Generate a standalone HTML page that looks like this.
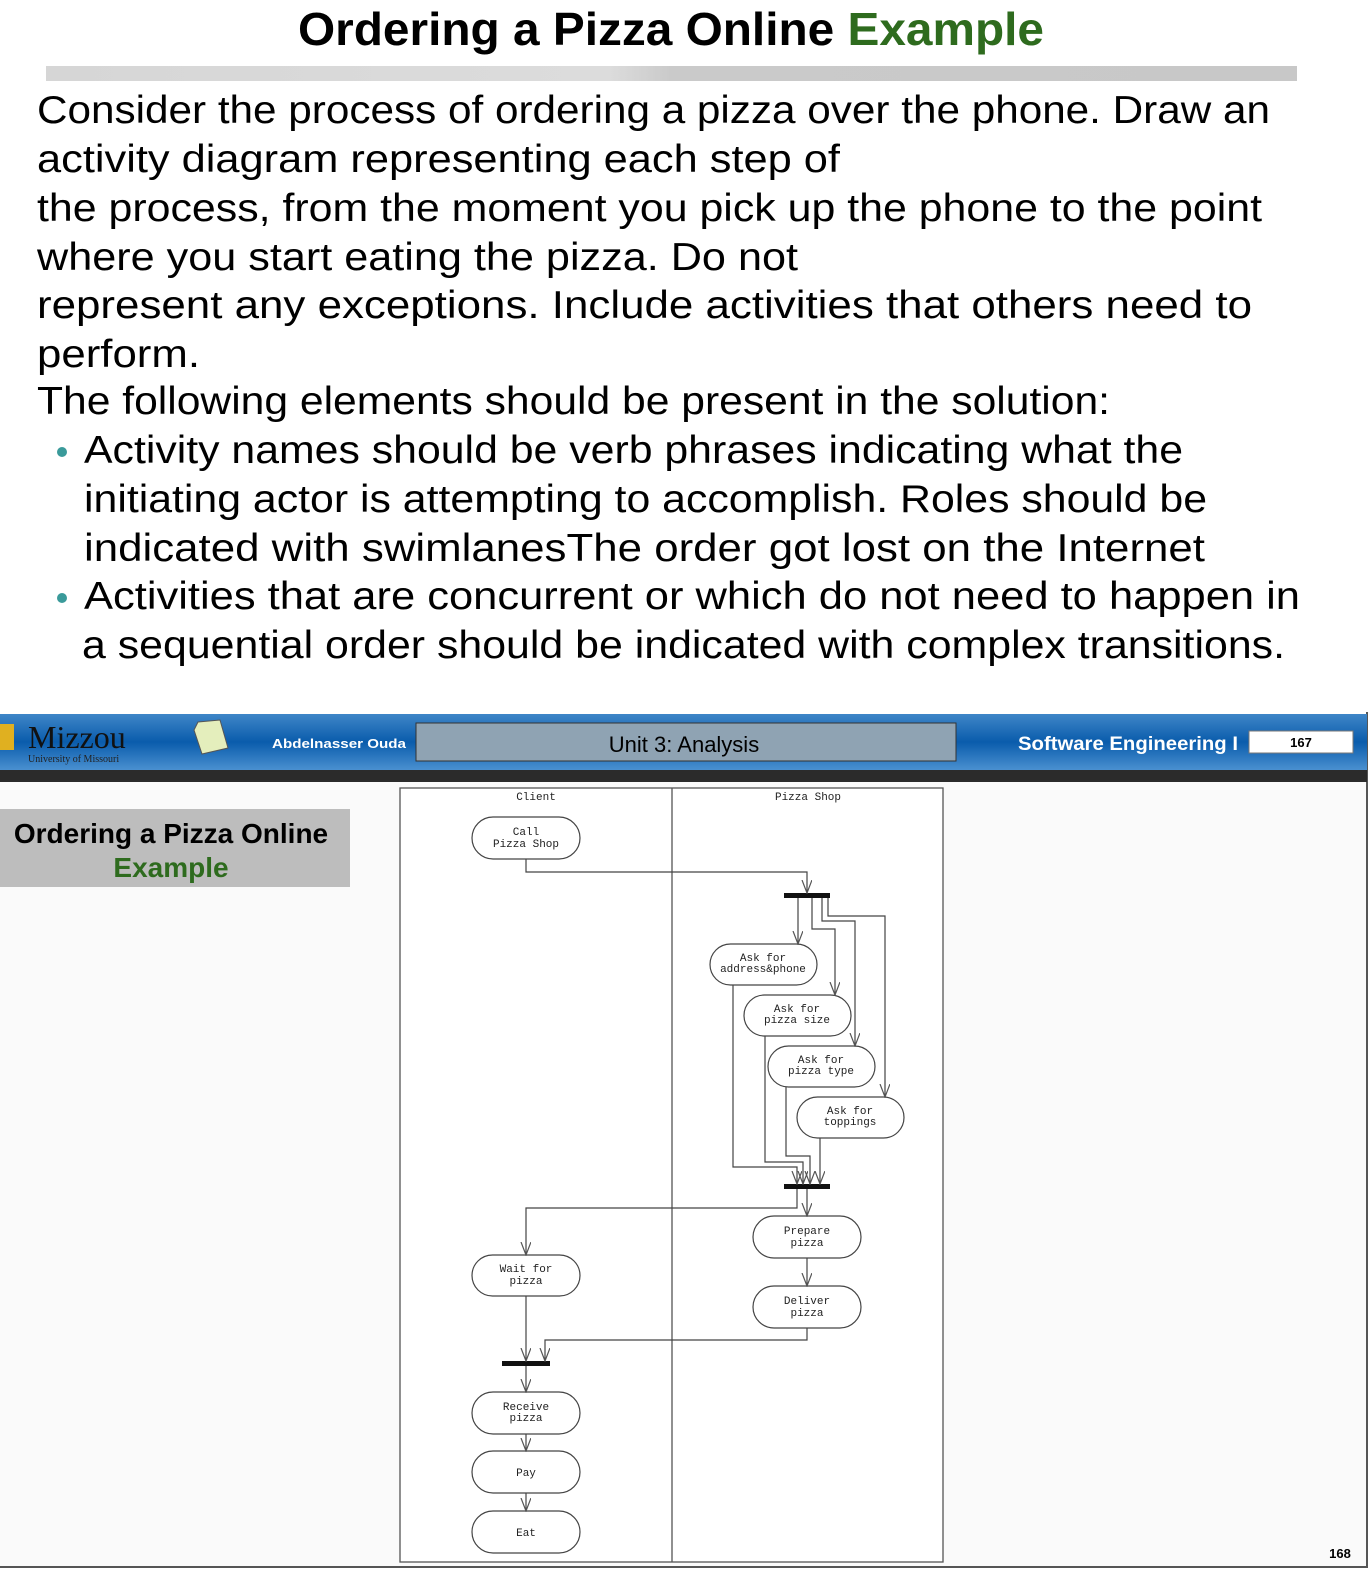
<!DOCTYPE html>
<html><head><meta charset="utf-8"><style>
html,body{margin:0;padding:0;background:#fff;}
svg{display:block;}
</style></head><body>
<svg width="1370" height="1570" viewBox="0 0 1370 1570" xmlns="http://www.w3.org/2000/svg">
<defs>
<linearGradient id="bar" x1="0" x2="1" y1="0" y2="0">
<stop offset="0" stop-color="#d6d6d6"/><stop offset="0.45" stop-color="#dcdcdc"/><stop offset="0.5" stop-color="#cacaca"/><stop offset="1" stop-color="#c8c8c8"/></linearGradient>
<linearGradient id="blue" x1="0" x2="0" y1="0" y2="1">
<stop offset="0" stop-color="#3f86c8"/><stop offset="0.5" stop-color="#0a5cac"/><stop offset="1" stop-color="#4a90d0"/></linearGradient>
<marker id="a" markerWidth="14" markerHeight="12" refX="13" refY="5" orient="auto" markerUnits="userSpaceOnUse" viewBox="0 0 14 12">
<path d="M0,0 L13,5 L0,10" fill="none" stroke="#555" stroke-width="1.2"/></marker>
</defs>
<!-- title -->
<text x="298" y="45" textLength="746" lengthAdjust="spacingAndGlyphs" font-family="Liberation Sans, sans-serif" font-weight="bold" font-size="46"><tspan fill="#000">Ordering a Pizza Online </tspan><tspan fill="#2e6b1e">Example</tspan></text>
<rect x="46" y="66" width="1251" height="15" fill="url(#bar)"/>
<g font-family="Liberation Sans, sans-serif" font-size="39" fill="#000">
<text x="37" y="123" textLength="1233" lengthAdjust="spacingAndGlyphs">Consider the process of ordering a pizza over the phone. Draw an</text>
<text x="37" y="172" textLength="803" lengthAdjust="spacingAndGlyphs">activity diagram representing each step of</text>
<text x="37" y="221" textLength="1225" lengthAdjust="spacingAndGlyphs">the process, from the moment you pick up the phone to the point</text>
<text x="37" y="270" textLength="761" lengthAdjust="spacingAndGlyphs">where you start eating the pizza. Do not</text>
<text x="37" y="318" textLength="1215" lengthAdjust="spacingAndGlyphs">represent any exceptions. Include activities that others need to</text>
<text x="37" y="367" textLength="163" lengthAdjust="spacingAndGlyphs">perform.</text>
<text x="37" y="414" textLength="1073" lengthAdjust="spacingAndGlyphs">The following elements should be present in the solution:</text>
<text x="84" y="463" textLength="1099" lengthAdjust="spacingAndGlyphs">Activity names should be verb phrases indicating what the</text>
<text x="84" y="512" textLength="1123" lengthAdjust="spacingAndGlyphs">initiating actor is attempting to accomplish. Roles should be</text>
<text x="84" y="561" textLength="1121" lengthAdjust="spacingAndGlyphs">indicated with swimlanesThe order got lost on the Internet</text>
<text x="84" y="609" textLength="1216" lengthAdjust="spacingAndGlyphs">Activities that are concurrent or which do not need to happen in</text>
<text x="82" y="658" textLength="1203" lengthAdjust="spacingAndGlyphs">a sequential order should be indicated with complex transitions.</text>
</g>
<circle cx="62" cy="452" r="5" fill="#3a9a9a"/>
<circle cx="62" cy="598" r="5" fill="#3a9a9a"/>
<!-- slide area -->
<rect x="0" y="782" width="1367" height="786" fill="#fafafa"/>
<line x1="1367" y1="712" x2="1367" y2="1568" stroke="#555" stroke-width="2"/>
<line x1="0" y1="1567" x2="1368" y2="1567" stroke="#555" stroke-width="2"/>
<rect x="0" y="714" width="1367" height="56" fill="url(#blue)"/>
<rect x="0" y="770" width="1367" height="12" fill="#2b2b2b"/>
<text x="28" y="748" font-family="Liberation Serif, serif" font-size="32" fill="#111">Mizzou</text>
<text x="28" y="762" font-family="Liberation Serif, serif" font-size="10" fill="#222">University of Missouri</text>
<rect x="-6" y="724" width="20" height="26" fill="#e0b020"/>
<polygon points="198,722 220,720 228,748 202,754 194,730" fill="#e4eebc" stroke="#555"/>
<text x="272" y="748" textLength="134" lengthAdjust="spacingAndGlyphs" font-family="Liberation Sans, sans-serif" font-weight="bold" font-size="13" fill="#fff">Abdelnasser Ouda</text>
<rect x="416" y="723" width="540" height="38" fill="#8fa3b3" stroke="#333"/>
<text x="684" y="752" text-anchor="middle" font-family="Liberation Sans, sans-serif" font-size="22" fill="#000">Unit 3: Analysis</text>
<text x="1018" y="750" textLength="220" lengthAdjust="spacingAndGlyphs" font-family="Liberation Sans, sans-serif" font-weight="bold" font-size="19" fill="#fff">Software Engineering I</text>
<rect x="1249" y="731" width="104" height="22" fill="#fff" stroke="#777"/>
<text x="1301" y="747" text-anchor="middle" font-family="Liberation Sans, sans-serif" font-weight="bold" font-size="13">167</text>
<text x="1340" y="1558" text-anchor="middle" font-family="Liberation Sans, sans-serif" font-weight="bold" font-size="13">168</text>
<rect x="0" y="809" width="350" height="78" fill="#bdbdbd"/>
<text x="171" y="843" text-anchor="middle" font-family="Liberation Sans, sans-serif" font-weight="bold" font-size="28">Ordering a Pizza Online</text>
<text x="171" y="877" text-anchor="middle" font-family="Liberation Sans, sans-serif" font-weight="bold" font-size="28" fill="#2e6b1e">Example</text>
<!-- diagram -->
<rect x="400" y="788" width="543" height="774" fill="#fff" stroke="#555" stroke-width="1.3"/>
<line x1="672" y1="788" x2="672" y2="1562" stroke="#555" stroke-width="1.3"/>
<g font-family="Liberation Mono, DejaVu Sans Mono, monospace" font-size="11" fill="#222" text-anchor="middle">
<text x="536" y="800">Client</text><text x="808" y="800">Pizza Shop</text>
</g>
<g fill="#fff" stroke="#444" stroke-width="1.2">
<rect x="472" y="817" width="108" height="42" rx="21"/>
<rect x="710" y="944" width="107" height="41" rx="20.5"/>
<rect x="744" y="995" width="107" height="41" rx="20.5"/>
<rect x="768" y="1046" width="107" height="41" rx="20.5"/>
<rect x="797" y="1097" width="107" height="41" rx="20.5"/>
<rect x="753" y="1216" width="108" height="42" rx="21"/>
<rect x="753" y="1286" width="108" height="42" rx="21"/>
<rect x="472" y="1255" width="108" height="41" rx="20.5"/>
<rect x="472" y="1392" width="108" height="42" rx="21"/>
<rect x="472" y="1451" width="108" height="42" rx="21"/>
<rect x="472" y="1511" width="108" height="42" rx="21"/>
</g>
<g fill="#111">
<rect x="784" y="893" width="46" height="5"/>
<rect x="784" y="1184" width="46" height="5"/>
<rect x="502" y="1361" width="48" height="5"/>
</g>
<g fill="none" stroke="#444" stroke-width="1.2" marker-end="url(#a)">
<path d="M526,859 V872 H807 V893"/>
<path d="M798,898 V944"/>
<path d="M812,898 V929 H835 V995"/>
<path d="M822,898 V921 H855 V1046"/>
<path d="M828,898 V916 H885 V1097"/>
<path d="M733,985 V1167 H797 V1184"/>
<path d="M765,1036 V1162 H803 V1184"/>
<path d="M786,1087 V1156 H810 V1184"/>
<path d="M820,1138 V1184"/>
<path d="M797,1189 V1208 H526 V1255"/>
<path d="M807,1189 V1216"/>
<path d="M807,1258 V1286"/>
<path d="M807,1328 V1340 H545 V1361"/>
<path d="M526,1296 V1361"/>
<path d="M526,1366 V1392"/>
<path d="M526,1434 V1451"/>
<path d="M526,1493 V1511"/>
</g>
<g font-family="Liberation Mono, DejaVu Sans Mono, monospace" font-size="11" fill="#222" text-anchor="middle">
<text x="526" y="835">Call</text><text x="526" y="847">Pizza Shop</text>
<text x="763" y="961">Ask for</text><text x="763" y="972">address&amp;phone</text>
<text x="797" y="1012">Ask for</text><text x="797" y="1023">pizza size</text>
<text x="821" y="1063">Ask for</text><text x="821" y="1074">pizza type</text>
<text x="850" y="1114">Ask for</text><text x="850" y="1125">toppings</text>
<text x="807" y="1234">Prepare</text><text x="807" y="1246">pizza</text>
<text x="807" y="1304">Deliver</text><text x="807" y="1316">pizza</text>
<text x="526" y="1272">Wait for</text><text x="526" y="1284">pizza</text>
<text x="526" y="1410">Receive</text><text x="526" y="1421">pizza</text>
<text x="526" y="1476">Pay</text>
<text x="526" y="1536">Eat</text>
</g>
</svg>
</body></html>
